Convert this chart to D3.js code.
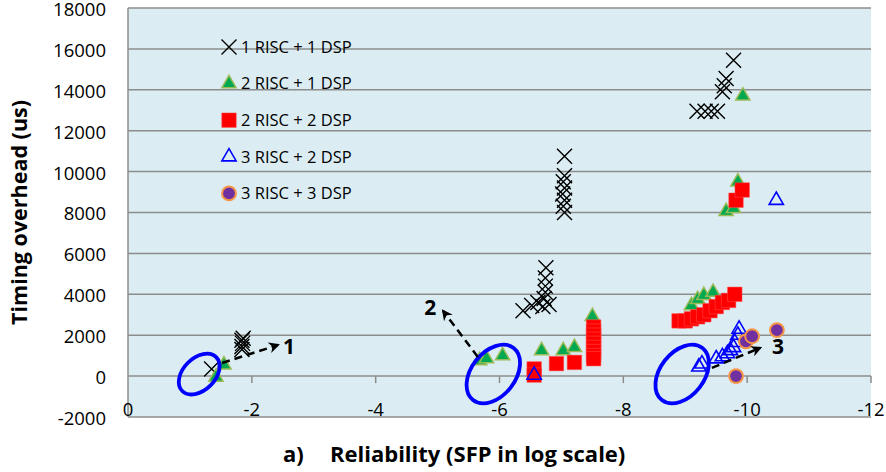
<!DOCTYPE html>
<html>
<head>
<meta charset="utf-8">
<script src="https://cdn.jsdelivr.net/npm/d3@7"></script>
<style>
  body { margin: 0; background: #fff; }
  svg { display: block; font-family: "Open Sans", Lato, sans-serif; }
</style>
</head>
<body>
<svg id="chart" width="886" height="472"></svg>
<script>
// axis ticks
const xTicks = [0, -2, -4, -6, -8, -10, -12];
const yTicks = [-2000, 0, 2000, 4000, 6000, 8000, 10000, 12000, 14000, 16000, 18000];

// series: [reliability (log SFP), timing overhead (us)]
const risc1dsp1 = [
    [-1.35, 350], [-1.84, 1300], [-1.84, 1450], [-1.85, 1600], [-1.84, 1750], [-1.86, 1850],
    [-6.38, 3200], [-6.52, 3450], [-6.62, 3600], [-6.7, 3400], [-6.72, 3800], [-6.74, 4100],
    [-6.74, 4400], [-6.74, 4800], [-6.75, 5300], [-6.8, 3500],
    [-7.05, 10750], [-7.05, 9800], [-7.03, 9500], [-7.05, 9200], [-7.02, 8900], [-7.05, 8600],
    [-7.03, 8300], [-7.05, 8000],
    [-9.19, 12950], [-9.32, 12950], [-9.42, 12950], [-9.52, 12950], [-9.6, 13900],
    [-9.63, 14200], [-9.66, 14550], [-9.78, 15450]
];
const risc2dsp1 = [
    [-1.55, 550], [-1.42, -50],
    [-5.68, 760], [-5.79, 860], [-6.05, 1000], [-6.68, 1250], [-7.03, 1250], [-7.21, 1400], [-7.5, 2920],
    [-9.1, 3450], [-9.2, 3750], [-9.3, 3950], [-9.45, 4100],
    [-9.66, 8050], [-9.78, 8200], [-9.85, 9500], [-9.93, 13700]
];
const risc2dsp2 = [
    [-6.56, 350], [-6.56, 50], [-6.92, 610], [-7.21, 670],
    [-7.52, 2400], [-7.52, 2200], [-7.52, 2000], [-7.52, 1800], [-7.52, 1600], [-7.52, 1400],
    [-7.52, 1200], [-7.52, 1000], [-7.52, 850],
    [-8.9, 2700], [-9.0, 2700], [-9.1, 2800], [-9.2, 2900], [-9.3, 3000], [-9.4, 3200],
    [-9.5, 3400], [-9.6, 3600], [-9.7, 3700], [-9.8, 4000],
    [-9.82, 8600], [-9.92, 9100]
];
const risc3dsp2 = [
    [-6.56, 50],
    [-9.22, 450], [-9.27, 600], [-9.5, 850], [-9.6, 950], [-9.68, 1100], [-9.73, 1250],
    [-9.78, 1400], [-9.8, 1650], [-9.85, 2000], [-9.87, 2300],
    [-10.47, 8600]
];
const risc3dsp3 = [[-9.82, 0], [-9.98, 1700], [-10.08, 1950], [-10.48, 2250]];

const seriesNames = ["1 RISC + 1 DSP", "2 RISC + 1 DSP", "2 RISC + 2 DSP", "3 RISC + 2 DSP", "3 RISC + 3 DSP"];

// annotations (data units)
const circledGroups = [[-1.15, 100], [-5.9, 100], [-8.95, 100]];
const arrows = [
    {from: [-1.52, 640], to: [-2.42, 1520], label: "1", at: [-2.6, 1420]},
    {from: [-5.65, 935], to: [-5.09, 3185], label: "2", at: [-4.88, 3330]},
    {from: [-9.43, 400], to: [-10.21, 1380], label: "3", at: [-10.5, 1430]}
];

const svg = d3.select("#chart");
const margin = {top: 8, right: 15, bottom: 55, left: 128};
const width = 886 - margin.left - margin.right;
const height = 472 - margin.top - margin.bottom;

const x = d3.scaleLinear().domain([0, -12]).range([margin.left, margin.left + width]);
const y = d3.scaleLinear().domain([-2000, 18000]).range([margin.top + height, margin.top]);

// plot background
svg.append("rect")
    .attr("x", x(0)).attr("y", y(18000))
    .attr("width", x(-12) - x(0)).attr("height", y(-2000) - y(18000))
    .attr("fill", "#dbedf3");

// gridlines
svg.append("g")
    .selectAll("line")
    .data(yTicks)
    .join("line")
    .attr("x1", x(0)).attr("x2", x(-12))
    .attr("y1", d => y(d)).attr("y2", d => y(d))
    .attr("stroke", "#8c8c8c")
    .attr("stroke-width", 1.5);

// left axis line
svg.append("line")
    .attr("x1", x(0)).attr("x2", x(0))
    .attr("y1", y(18000)).attr("y2", y(-2000))
    .attr("stroke", "#8c8c8c").attr("stroke-width", 1.5);

// x tick marks sit on the zero line
svg.append("g")
    .selectAll("line")
    .data(xTicks.slice(1))
    .join("line")
    .attr("x1", d => x(d)).attr("x2", d => x(d))
    .attr("y1", y(0)).attr("y2", y(0) + 7)
    .attr("stroke", "#8c8c8c").attr("stroke-width", 1.5);

// tick labels
svg.append("g")
    .selectAll("text")
    .data(yTicks)
    .join("text")
    .attr("x", x(0) - 22)
    .attr("y", d => y(d) + 1.5)
    .attr("dy", "0.35em")
    .attr("text-anchor", "end")
    .attr("font-size", 18.5)
    .attr("fill", "#000")
    .text(d => d);

svg.append("g")
    .selectAll("text")
    .data(xTicks)
    .join("text")
    .attr("x", d => x(d))
    .attr("y", y(-2000) - 1)
    .attr("text-anchor", "middle")
    .attr("font-size", 18.5)
    .text(d => d === 0 ? "0" : "-" + Math.abs(d));

// axis titles
svg.append("text")
    .attr("transform", `translate(27, ${(y(18000) + y(-2000)) / 2}) rotate(-90)`)
    .attr("text-anchor", "middle")
    .attr("font-size", 21.5)
    .attr("font-weight", "bold")
    .text("Timing overhead (us)");

svg.append("text")
    .attr("x", 283).attr("y", 462)
    .attr("font-size", 22)
    .attr("font-weight", "bold")
    .text("a)");
svg.append("text")
    .attr("x", 330).attr("y", 462)
    .attr("font-size", 22)
    .attr("font-weight", "bold")
    .text("Reliability (SFP in log scale)");

// marker drawing helpers
const triPath = d3.symbol().type(d3.symbolTriangle).size(88)();
const sqPath = d3.symbol().type(d3.symbolSquare).size(210)();
const circPath = d3.symbol().type(d3.symbolCircle).size(150)();
const crossPath = "M-7.5,-7.5L7.5,7.5M-7.5,7.5L7.5,-7.5";

const styles = [
    g => g.attr("d", crossPath).attr("fill", "none").attr("stroke", "#000").attr("stroke-width", 1.4),
    g => g.attr("d", triPath).attr("fill", "#00a84f").attr("stroke", "#9bbb59").attr("stroke-width", 1.5),
    g => g.attr("d", sqPath).attr("fill", "#ff0000").attr("stroke", "#ff5050").attr("stroke-width", 0.5),
    g => g.attr("d", triPath).attr("fill", "none").attr("stroke", "#0000ff").attr("stroke-width", 1.6),
    g => g.attr("d", circPath).attr("fill", "#7030a0").attr("stroke", "#f79646").attr("stroke-width", 2)
];
const allSeries = [risc1dsp1, risc2dsp1, risc2dsp2, risc3dsp2, risc3dsp3];

const marks = svg.append("g");
allSeries.forEach((data, i) => {
    marks.append("g")
        .selectAll("path")
        .data(data)
        .join("path")
        .attr("transform", d => `translate(${x(d[0])},${y(d[1])})`)
        .call(styles[i]);
});

// legend
const legend = svg.append("g").attr("transform", "translate(229, 47)");
seriesNames.forEach((name, i) => {
    const row = legend.append("g").attr("transform", `translate(0, ${i * 36.6})`);
    row.append("path").call(styles[i]);
    row.append("text")
        .attr("x", 12).attr("dy", "0.35em")
        .attr("font-size", 16.5)
        .text(name);
});

// blue ellipses around circled groups
svg.append("g")
    .selectAll("ellipse")
    .data(circledGroups)
    .join("ellipse")
    .attr("transform", (d, i) => `translate(${x(d[0])},${y(d[1])}) rotate(${i === 0 ? -45 : -52})`)
    .attr("rx", (d, i) => i === 0 ? 24 : 33)
    .attr("ry", (d, i) => i === 0 ? 16 : 22)
    .attr("fill", "none")
    .attr("stroke", "#0000ff")
    .attr("stroke-width", 3.8);

// dashed arrows
svg.append("defs").append("marker")
    .attr("id", "head")
    .attr("viewBox", "0 0 10 10")
    .attr("refX", 8).attr("refY", 5)
    .attr("markerWidth", 11).attr("markerHeight", 11)
    .attr("markerUnits", "userSpaceOnUse")
    .attr("orient", "auto")
    .append("path")
    .attr("d", "M0,0L10,5L0,10L3,5Z")
    .attr("fill", "#000");

const ann = svg.append("g");
ann.selectAll("line")
    .data(arrows)
    .join("line")
    .attr("x1", d => x(d.from[0])).attr("y1", d => y(d.from[1]))
    .attr("x2", d => x(d.to[0])).attr("y2", d => y(d.to[1]))
    .attr("stroke", "#000")
    .attr("stroke-width", 2.5)
    .attr("stroke-dasharray", "8,5")
    .attr("marker-end", "url(#head)");

ann.selectAll("text")
    .data(arrows)
    .join("text")
    .attr("x", d => x(d.at[0])).attr("y", d => y(d.at[1]))
    .attr("dy", "0.35em")
    .attr("text-anchor", "middle")
    .attr("font-size", 21)
    .attr("font-weight", "bold")
    .text(d => d.label);
</script>
</body>
</html>
